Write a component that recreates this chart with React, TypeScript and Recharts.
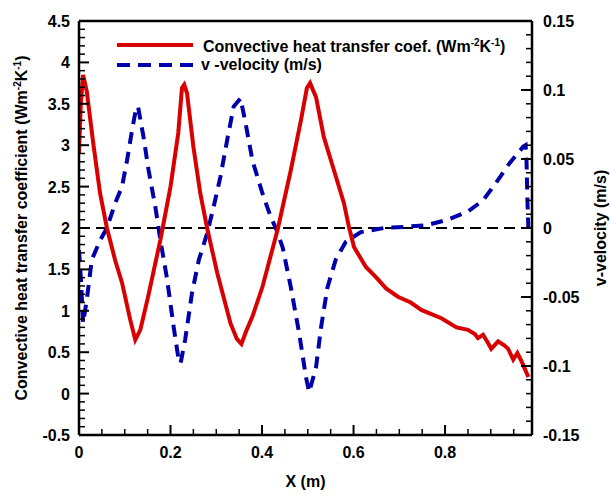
import { LineChart, Line, XAxis, YAxis, ReferenceLine, Legend } from 'recharts';

// heat transfer coefficient
const hX = [
  0, 0.004, 0.009, 0.017, 0.031, 0.046, 0.061, 0.079, 0.094, 0.112, 0.123, 0.134, 0.151, 0.178, 0.2,
  0.217, 0.225, 0.23, 0.236, 0.25, 0.265, 0.28, 0.302, 0.331, 0.345, 0.355, 0.365, 0.379, 0.401, 0.434,
  0.463, 0.485, 0.498, 0.505, 0.518, 0.535, 0.557, 0.579, 0.59, 0.601, 0.627, 0.65, 0.671, 0.697, 0.725,
  0.748, 0.77, 0.792, 0.825, 0.85, 0.865, 0.872, 0.883, 0.893, 0.901, 0.916, 0.93, 0.938, 0.949, 0.958,
  0.968, 0.982,
];
const hVal = [
  2.9, 3.5, 3.85, 3.65, 3.03, 2.42, 2.0, 1.61, 1.34, 0.89, 0.65, 0.77, 1.17, 1.86, 2.5,
  3.15, 3.69, 3.73, 3.63, 2.98, 2.42, 2.0, 1.46, 0.85, 0.66, 0.6, 0.75, 0.93, 1.29, 1.98,
  2.7, 3.3, 3.69, 3.75, 3.58, 3.1, 2.7, 2.3, 2.01, 1.77, 1.53, 1.4, 1.27, 1.17, 1.1,
  1.01, 0.96, 0.91, 0.8, 0.77, 0.72, 0.67, 0.71, 0.62, 0.54, 0.63, 0.58, 0.54, 0.41, 0.49,
  0.38, 0.2,
];

// v-velocity
const vX = [
  0, 0.004, 0.009, 0.017, 0.028, 0.046, 0.061, 0.079, 0.094, 0.105, 0.116, 0.125, 0.129, 0.141, 0.152,
  0.167, 0.178, 0.192, 0.207, 0.218, 0.222, 0.232, 0.247, 0.262, 0.28, 0.294, 0.309, 0.324, 0.338, 0.353,
  0.364, 0.379, 0.401, 0.419, 0.43, 0.445, 0.463, 0.481, 0.496, 0.503, 0.518, 0.529, 0.543, 0.561, 0.583,
  0.616, 0.667, 0.719, 0.759, 0.806, 0.85, 0.883, 0.912, 0.941, 0.971, 0.976, 0.978, 0.98, 0.982,
];
const vVal = [
  -0.016, -0.036, -0.069, -0.052, -0.023, -0.009, 0.0, 0.018, 0.03, 0.049, 0.071, 0.087, 0.088, 0.066, 0.042,
  0.015, -0.009, -0.036, -0.072, -0.096, -0.098, -0.081, -0.047, -0.023, -0.004, 0.015, 0.037, 0.064, 0.088, 0.094,
  0.076, 0.049, 0.025, 0.008, 0.0, -0.014, -0.043, -0.076, -0.108, -0.119, -0.101, -0.072, -0.043, -0.023, -0.01,
  -0.003, 0.0, 0.001, 0.002, 0.006, 0.012, 0.02, 0.033, 0.047, 0.059, 0.06, 0.049, 0.02, 0.0,
];

const xMajorTicks = [0, 0.2, 0.4, 0.6, 0.8];
const hMajorTicks = [-0.5, 0, 0.5, 1, 1.5, 2, 2.5, 3, 3.5, 4, 4.5];
const vMajorTicks = [-0.15, -0.1, -0.05, 0, 0.05, 0.1, 0.15];

const hData = hX.map((x, i) => ({ x, h: hVal[i] }));
const vData = vX.map((x, i) => ({ x, v: vVal[i] }));

const RED = '#d90000';
const BLUE = '#0000aa';
const FONT = '"Liberation Sans", Arial, Helvetica, sans-serif';

const steps = (from: number, to: number, step: number) => {
  const n = Math.round((to - from) / step);
  const out: number[] = [];
  for (let i = 0; i <= n; i++) out.push(+(from + i * step).toFixed(4));
  return out;
};
const xTicks = steps(0, 0.95, 0.05);
const hTicks = steps(-0.5, 4.5, 0.1);
const vTicks = steps(-0.15, 0.15, 0.01);

const isMajor = (v: number, majors: number[]) => majors.some((m) => Math.abs(m - v) < 1e-6);
const fmt = (v: number) => String(+v.toFixed(2));

const textStyle = { fontFamily: FONT, fontWeight: 'bold' as const, fontSize: 16, fill: '#000' };

const XTick = (props: any) => {
  const { x, y, payload } = props;
  const major = isMajor(payload.value, xMajorTicks);
  return (
    <g>
      <line x1={x} x2={x} y1={y} y2={y - (major ? 10 : 6)} stroke="#000" strokeWidth={major ? 2 : 1.5} />
      {major && (
        <text x={x} y={y + 23} textAnchor="middle" {...textStyle}>
          {fmt(payload.value)}
        </text>
      )}
    </g>
  );
};

const LeftTick = (props: any) => {
  const { x, y, payload } = props;
  const major = isMajor(payload.value, hMajorTicks);
  return (
    <g>
      <line x1={x} x2={x + (major ? 10 : 6)} y1={y} y2={y} stroke="#000" strokeWidth={major ? 2 : 1.5} />
      {major && (
        <text x={x - 9} y={y + 6} textAnchor="end" {...textStyle}>
          {fmt(payload.value)}
        </text>
      )}
    </g>
  );
};

const RightTick = (props: any) => {
  const { x, y, payload } = props;
  const major = isMajor(payload.value, vMajorTicks);
  return (
    <g>
      <line x1={x} x2={x - (major ? 11 : 6)} y1={y} y2={y} stroke="#000" strokeWidth={major ? 2 : 1.5} />
      {major && (
        <text x={x + 11} y={y + 6} textAnchor="start" {...textStyle}>
          {fmt(payload.value)}
        </text>
      )}
    </g>
  );
};

const leftLabel = (props: any) => {
  const vb = props.viewBox;
  const cy = vb.y + vb.height / 2;
  return (
    <text transform={`translate(27, ${cy}) rotate(-90)`} textAnchor="middle" {...textStyle}>
      Convective heat transfer coefficient (Wm
      <tspan dy={-6} fontSize={10}>-2</tspan>
      <tspan dy={6}>K</tspan>
      <tspan dy={-6} fontSize={10}>-1</tspan>
      <tspan dy={6}>)</tspan>
    </text>
  );
};

const rightLabel = (props: any) => {
  const vb = props.viewBox;
  const cy = vb.y + vb.height / 2;
  return (
    <text transform={`translate(606, ${cy}) rotate(-90)`} textAnchor="middle" {...textStyle}>
      v-velocity (m/s)
    </text>
  );
};

const bottomLabel = (props: any) => {
  const vb = props.viewBox;
  return (
    <text x={vb.x + vb.width / 2} y={487} textAnchor="middle" {...textStyle}>
      X (m)
    </text>
  );
};

const renderLegend = () => (
  <div style={{ fontFamily: FONT, fontWeight: 'bold', fontSize: 16, color: '#000' }}>
    <div style={{ display: 'flex', alignItems: 'center', height: 20 }}>
      <svg width={88} height={20}>
        <line x1={5} x2={81} y1={10} y2={10} stroke={RED} strokeWidth={4} />
      </svg>
      <span style={{ marginLeft: 3, lineHeight: '20px', whiteSpace: 'nowrap' }}>
        Convective heat transfer coef. (Wm<sup style={{ fontSize: 10 }}>-2</sup>K<sup style={{ fontSize: 10 }}>-1</sup>)
      </span>
    </div>
    <div style={{ display: 'flex', alignItems: 'center', height: 20 }}>
      <svg width={88} height={20}>
        <line x1={5} x2={81} y1={10} y2={10} stroke={BLUE} strokeWidth={4} strokeDasharray="13 8" />
      </svg>
      <span style={{ marginLeft: 1, lineHeight: '20px', whiteSpace: 'nowrap' }}>v -velocity (m/s)</span>
    </div>
  </div>
);

const axisLine = { stroke: '#000', strokeWidth: 2.5 };

export default function App() {
  return (
    <div style={{ position: 'absolute', left: 0, top: 0, width: 610, height: 495, background: '#fff' }}>
      <LineChart width={610} height={495} margin={{ top: 20, right: 77, bottom: 59, left: 78 }}>
        <XAxis
          xAxisId="bottom"
          type="number"
          dataKey="x"
          domain={[0, 0.99]}
          ticks={xTicks}
          interval={0}
          allowDataOverflow
          height={1}
          tickSize={0}
          tickMargin={0}
          tickLine={false}
          axisLine={axisLine}
          tick={<XTick />}
          label={bottomLabel}
        />
        <XAxis
          xAxisId="top"
          orientation="top"
          type="number"
          dataKey="x"
          domain={[0, 0.99]}
          allowDataOverflow
          height={1}
          tick={false}
          tickLine={false}
          axisLine={axisLine}
        />
        <YAxis
          yAxisId="left"
          type="number"
          domain={[-0.5, 4.5]}
          ticks={hTicks}
          interval={0}
          allowDataOverflow
          width={1}
          tickSize={0}
          tickMargin={0}
          tickLine={false}
          axisLine={axisLine}
          tick={<LeftTick />}
          label={leftLabel}
        />
        <YAxis
          yAxisId="right"
          orientation="right"
          type="number"
          domain={[-0.15, 0.15]}
          ticks={vTicks}
          interval={0}
          allowDataOverflow
          width={1}
          tickSize={0}
          tickMargin={0}
          tickLine={false}
          axisLine={axisLine}
          tick={<RightTick />}
          label={rightLabel}
        />
        <ReferenceLine xAxisId="bottom" yAxisId="left" y={2} stroke="#000" strokeWidth={2} strokeDasharray="11 6" />
        <Line
          xAxisId="bottom"
          yAxisId="right"
          data={vData}
          dataKey="v"
          name="v -velocity (m/s)"
          type="linear"
          stroke={BLUE}
          strokeWidth={4}
          strokeDasharray="12 8"
          dot={false}
          activeDot={false}
          isAnimationActive={false}
        />
        <Line
          xAxisId="bottom"
          yAxisId="left"
          data={hData}
          dataKey="h"
          name="Convective heat transfer coef."
          type="linear"
          stroke={RED}
          strokeWidth={4}
          dot={false}
          activeDot={false}
          isAnimationActive={false}
        />
        <Legend
          layout="horizontal"
          verticalAlign="middle"
          align="center"
          content={renderLegend}
          wrapperStyle={{ top: 35, left: 112, width: 420, height: 40 }}
        />
      </LineChart>
    </div>
  );
}
